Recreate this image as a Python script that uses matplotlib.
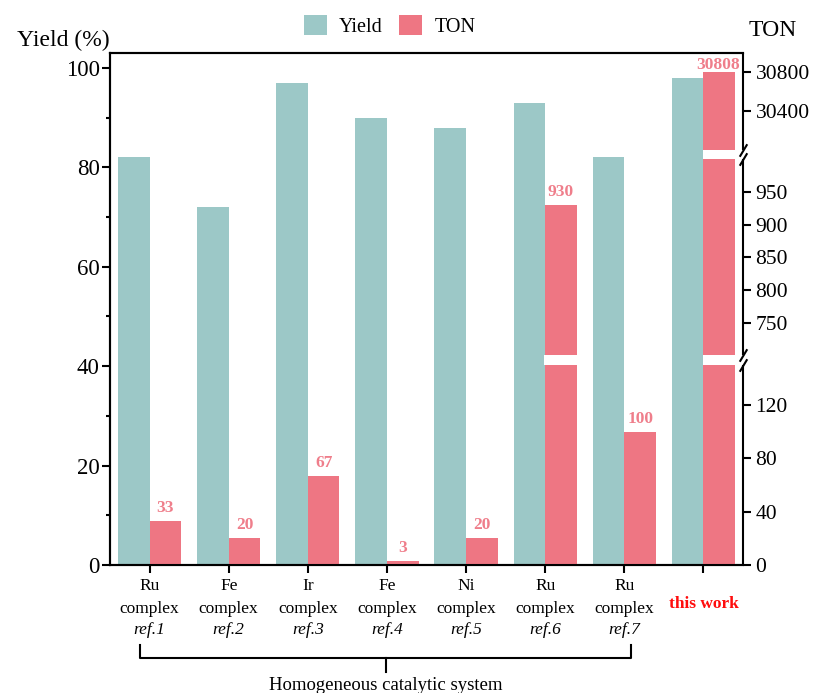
import numpy as np
import matplotlib
matplotlib.use("Agg")
import matplotlib.pyplot as plt
from matplotlib.patches import Patch
from matplotlib.ticker import MultipleLocator

# ---------------- data ----------------
metals = ["Ru", "Fe", "Ir", "Fe", "Ni", "Ru", "Ru", ""]
refs = ["ref.1", "ref.2", "ref.3", "ref.4", "ref.5", "ref.6", "ref.7", ""]
yield_pct = [82, 72, 97, 90, 88, 93, 82, 98]
ton = [33, 20, 67, 3, 20, 930, 100, 30808]
left_ticks = [0, 20, 40, 60, 80, 100]
right_ticks = [0, 40, 80, 120, 750, 800, 850, 900, 950, 30400, 30800]

# broken right-axis segments (TON) and where they sit on the axis (yield units)
ton_bp = [-1000, 0, 150, 700, 1000, 30000, 31000, 40000]
pos_bp = [-268.4, 0, 40.26, 42.2, 81.6, 83.5, 103.0, 278.5]
gaps = [(150, 700), (1000, 30000)]

TEAL = "#9CC8C7"
PINK = "#EE7683"
LABEL_PINK = "#EF7E8B"

plt.rcParams["font.family"] = ["Liberation Serif", "DejaVu Serif"]

fig = plt.figure(figsize=(8.15, 6.93), dpi=100)
ax = fig.add_axes([0.135, 0.1847, 0.7767, 0.7388])
ax2 = ax.twinx()

def fwd(t):
    return np.interp(t, ton_bp, pos_bp)

def inv(u):
    return np.interp(u, pos_bp, ton_bp)

ax2.set_yscale("function", functions=(fwd, inv))

x = np.arange(len(yield_pct))
w = 0.4
ax.bar(x - w / 2, yield_pct, width=w, color=TEAL, zorder=2)
ax2.bar(x + w / 2, ton, width=w, color=PINK, zorder=2)

# white gaps through bars crossing the axis breaks
for xi, v in zip(x, ton):
    for lo, hi in gaps:
        if v > lo:
            ax2.bar(xi + w / 2, hi - lo, bottom=lo, width=w + 0.02,
                    color="white", zorder=3)

# value labels
for xi, v in zip(x, ton):
    dy = 2 if v > 30000 else 6.5
    ax2.annotate(str(v), (xi + w / 2, v), xytext=(-1 if v > 30000 else 0, dy),
                 textcoords="offset points", ha="center", va="baseline",
                 fontsize=12.5, fontweight="bold", color=LABEL_PINK, zorder=5)

ax.set_xlim(-0.5, len(x) - 0.5)
ax.set_ylim(0, 103)
ax2.set_ylim(0, 31000)

# left axis
ax.set_yticks(left_ticks)
ax.yaxis.set_minor_locator(MultipleLocator(10))
ax.tick_params(axis="y", which="major", direction="out", length=6, width=1.5,
               labelsize=16.5, pad=1.5)
ax.tick_params(axis="y", which="minor", direction="out", length=3, width=1.5)
ax.set_xticks(x)
ax.set_xticklabels([])
ax.tick_params(axis="x", direction="out", length=6, width=1.5)

# right axis
ax2.set_yticks(right_ticks)
ax2.yaxis.set_minor_locator(plt.NullLocator())
ax2.tick_params(axis="y", direction="out", length=6, width=1.5, labelsize=15.5,
                pad=3)

for a in (ax, ax2):
    for s in a.spines.values():
        s.set_linewidth(1.5)
ax.spines["right"].set_visible(False)
ax2.spines["right"].set_visible(False)

# broken right spine
segs = [(0, 150), (700, 1000), (30000, 31000)]
tr = ax2.get_yaxis_transform()
for lo, hi in segs:
    ax2.plot([1, 1], [lo, hi], transform=tr, color="black", lw=1.5,
             clip_on=False, zorder=6, solid_capstyle="butt")
for lo, hi in gaps:
    ax2.plot([1, 1], [lo, hi], transform=tr, linestyle="none",
             marker=[(-0.6, -1), (0.6, 1)], markersize=9, mew=1.5,
             color="black", clip_on=False, zorder=6)

# category labels
for xi, m, r in zip(x, metals, refs):
    if m:
        ax.annotate(m, (xi, 0), xycoords=("data", "axes fraction"),
                    xytext=(0, -18), textcoords="offset points",
                    ha="center", va="baseline", fontsize=12.5)
        ax.annotate("complex", (xi, 0), xycoords=("data", "axes fraction"),
                    xytext=(0, -34.5), textcoords="offset points",
                    ha="center", va="baseline", fontsize=12.5)
        ax.annotate(r, (xi, 0), xycoords=("data", "axes fraction"),
                    xytext=(0, -49.7), textcoords="offset points",
                    ha="center", va="baseline", fontsize=12.5, style="italic")
ax.annotate("this work", (x[-1], 0), xycoords=("data", "axes fraction"),
            xytext=(0, -31), textcoords="offset points", ha="center",
            va="baseline", fontsize=12.5, fontweight="bold", color="#FF0D0D")

# bracket under references
btr = ax.get_xaxis_transform()
xl, xr, xc = -0.12, 6.09, 2.985
yb, yt, ytip = -0.182, -0.156, -0.209
ax.plot([xl, xl, xr, xr], [yt, yb, yb, yt], transform=btr, color="black",
        lw=1.5, clip_on=False, solid_joinstyle="round")
ax.plot([xc, xc], [yb, ytip], transform=btr, color="black", lw=1.5,
        clip_on=False)
ax.text(xc, -0.236, "Homogeneous catalytic system", transform=btr,
        ha="center", va="center", fontsize=13.5)

# axis titles
fig.text(0.135, 0.934, "Yield (%)", ha="right", va="baseline", fontsize=17)
fig.text(0.919, 0.948, "TON", ha="left", va="baseline", fontsize=17)

# legend
handles = [Patch(facecolor=TEAL, label="Yield"), Patch(facecolor=PINK, label="TON")]
fig.legend(handles=handles, loc="center", bbox_to_anchor=(0.478, 0.962),
           ncol=2, frameon=False, fontsize=14.5, handlelength=1.15,
           handleheight=1.15, handletextpad=0.6, columnspacing=0.8)

fig.savefig("out.png", dpi=100)
